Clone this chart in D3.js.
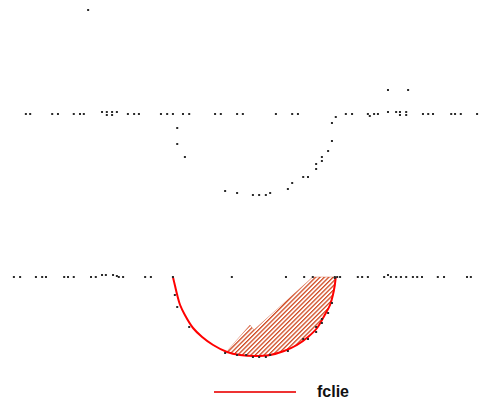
<!DOCTYPE html>
<html>
<head>
<meta charset="utf-8">
<script src="https://cdn.jsdelivr.net/npm/d3@7"></script>
<style>
  html, body { margin: 0; padding: 0; background: #fff; }
  svg { display: block; }
</style>
</head>
<body>
<div id="chart"></div>
<script>
// upper trace: time (0-100) and value
const upperT = [5.4, 6.3, 10.9, 12.1, 15.4, 16.7, 17.5, 21.3, 22.3, 22.3, 23.4, 23.4, 24.4, 26.7, 28.0, 29.0,
  33.6, 34.9, 36.1, 38.2, 39.5, 44.9, 46.1, 49.5, 50.7, 57.6, 61.0, 62.2, 72.2, 73.5, 76.8, 77.2, 78.1, 78.9,
  81.0, 82.7, 83.5, 83.5, 84.8, 84.8, 88.3, 89.4, 90.4, 94.2, 95.0, 96.2, 99.6,
  18.4, 81.0, 85.2,
  37.0, 37.0, 38.6, 47.0, 49.5, 52.8, 54.1, 55.5, 56.4, 60.1, 61.0, 63.3, 64.3, 66.0, 66.0, 67.2, 67.2,
  68.5, 69.3, 69.3, 70.1];
const upperV = [0, 0, 0, 0, 0, 0, 0, 0.2, 0.2, -0.1, 0.2, -0.1, 0.2, 0, 0, 0,
  0, 0, 0, 0, 0, 0, 0, 0, 0, 0, 0, 0, 0, 0, 0, -0.2, 0, 0,
  0.2, 0.2, 0.2, -0.1, 0.2, -0.1, 0, 0, 0, 0, 0, 0, 0,
  10.4, 2.4, 2.4,
  -1.4, -3.0, -4.3, -7.7, -7.9, -8.1, -8.1, -8.1, -7.9, -7.5, -6.9, -6.3, -6.3, -5.5, -5.0, -4.7, -4.3,
  -3.7, -2.7, -0.9, -0.3];

// lower trace
const lowerT = [2.9, 4.2, 7.5, 8.8, 9.6, 13.4, 14.2, 15.4, 19.0, 20.0, 21.3, 22.1, 23.6, 24.4, 24.8, 25.7,
  30.3, 31.5, 36.1, 48.4, 59.7, 63.5, 65.3, 69.9, 70.4, 71.0, 74.7, 75.6, 76.8, 80.2, 81.0, 81.6, 82.7,
  83.7, 84.8, 86.2, 87.1, 88.1, 91.4, 92.7, 97.5, 98.3,
  36.5, 37.0, 39.5, 47.0, 49.5, 51.4, 52.8, 54.1, 55.5, 56.4, 60.1, 63.3, 64.3, 66.0, 66.0, 67.2, 67.2,
  68.5, 69.3, 69.9];
const lowerV = [0, 0, 0, 0, 0, 0, 0, 0, 0, 0, 0.2, 0.2, 0.2, 0.1, 0, 0,
  0, 0, 0, 0, 0, 0, 0, 0, 0, 0, 0, 0, 0, 0, 0.2, 0, 0,
  0, 0, 0, 0, 0, 0, 0, 0, 0,
  -1.8, -3.0, -5.0, -7.6, -7.8, -7.8, -8.0, -8.0, -8.0, -7.8, -7.4, -6.2, -6.2, -5.5, -5.0, -4.6, -4.2,
  -3.6, -2.6, -0.1];

// fitted curve "fclie"
const fitT = [36.1, 36.5, 37.0, 37.6, 38.6, 40.3, 42.2, 44.5, 47.4, 50.1, 53.2, 56.4, 59.3, 62.0, 64.3,
  66.2, 67.8, 68.9, 69.5, 69.9, 70.1];
const fitV = [0, -0.8, -1.8, -2.8, -3.8, -5.1, -6.0, -6.8, -7.5, -7.8, -7.9, -7.8, -7.4, -6.8, -6.0,
  -5.1, -3.8, -2.8, -1.8, -0.8, 0];

// hatched area outline
const hatchT = [47.6, 52.2, 53.0, 65.3, 70.1, 69.9, 69.5, 68.9, 67.8, 66.2, 64.3, 62.0, 59.3, 56.4, 53.2, 50.1, 47.4];
const hatchV = [-7.3, -4.8, -5.3, 0, 0, -0.8, -1.8, -2.8, -3.8, -5.1, -6.0, -6.8, -7.4, -7.8, -7.9, -7.8, -7.5];

const legendLabel = 'fclie';

const width = 479, height = 398;

const svg = d3.select('#chart').append('svg')
  .attr('width', width)
  .attr('height', height);

const x = d3.scaleLinear().domain([0, 100]).range([0, 479]);
const yUp = d3.scaleLinear().domain([-10, 11.4]).range([214, 0]);
const yLow = d3.scaleLinear().domain([-10, 2]).range([377, 257]);

// hatch pattern
const defs = svg.append('defs');
const pat = defs.append('pattern')
  .attr('id', 'hatch')
  .attr('patternUnits', 'userSpaceOnUse')
  .attr('width', 3.1).attr('height', 3.1)
  .attr('patternTransform', 'rotate(45)');
pat.append('line')
  .attr('x1', 0.65).attr('y1', 0).attr('x2', 0.65).attr('y2', 3.1)
  .attr('stroke', '#cf4a22')
  .attr('stroke-width', 1.3);

const hatchPts = hatchT.map((t, i) => [x(t), yLow(hatchV[i])]);
svg.append('path')
  .attr('d', 'M' + hatchPts.join('L') + 'Z')
  .attr('fill', 'url(#hatch)')
  .attr('stroke', '#cf4a22')
  .attr('stroke-width', 0.6)
  .attr('stroke-opacity', 0.6);

// fit curve
const line = d3.line()
  .x(d => x(d[0]))
  .y(d => yLow(d[1]))
  .curve(d3.curveCatmullRom);

svg.append('path')
  .datum(fitT.map((t, i) => [t, fitV[i]]))
  .attr('fill', 'none')
  .attr('stroke', '#ff0000')
  .attr('stroke-width', 2)
  .attr('d', line);

// dots
function dots(ts, vs, y) {
  svg.append('g').selectAll('rect')
    .data(ts.map((t, i) => [t, vs[i]]))
    .enter().append('rect')
    .attr('x', d => x(d[0]) - 1)
    .attr('y', d => y(d[1]) - 1)
    .attr('width', 2)
    .attr('height', 2)
    .attr('fill', '#2a2a2a');
}
dots(upperT, upperV, yUp);
dots(lowerT, lowerV, yLow);

// legend
const lg = svg.append('g').attr('transform', 'translate(214,392)');
lg.append('line')
  .attr('x1', 0).attr('x2', 82)
  .attr('stroke', '#ee3333')
  .attr('stroke-width', 1.8);
lg.append('text')
  .attr('x', 103).attr('y', 4.5)
  .attr('font-family', 'Liberation Sans, Arial, sans-serif')
  .attr('font-weight', 'bold')
  .attr('font-size', 16)
  .attr('fill', '#111')
  .text(legendLabel);
</script>
</body>
</html>
